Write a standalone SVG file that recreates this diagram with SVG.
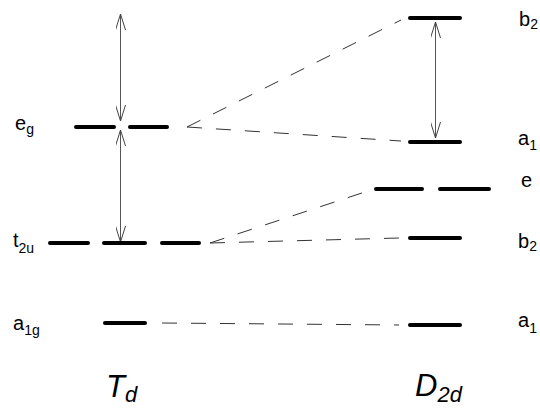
<svg xmlns="http://www.w3.org/2000/svg" width="540" height="408" viewBox="0 0 540 408">
<defs>
<style>
.lvl{stroke:#000;stroke-width:4;stroke-linecap:round;fill:none}
.dash{stroke:#333;stroke-width:1;stroke-dasharray:15 14;fill:none}
.arr{stroke:#555;stroke-width:1;fill:none;marker-start:url(#ah);marker-end:url(#ah)}
.lab{font-family:"Liberation Sans",Arial,sans-serif;font-size:20px;fill:#000}
.sub{font-size:14px}
.grp{font-family:"Liberation Sans",Arial,sans-serif;font-size:31px;font-style:italic;fill:#000}
.gsub{font-size:22px}
</style>
<marker id="ah" viewBox="0 0 16 10" refX="16" refY="5" markerWidth="16" markerHeight="10" markerUnits="userSpaceOnUse" orient="auto-start-reverse">
<path d="M0,0 L16,5 L0,10" fill="none" stroke="#444" stroke-width="1"/>
</marker>
</defs>
<rect width="540" height="408" fill="#fff"/>
<g id="connectors">
<path class="dash" d="M187,127 L401,20"/>
<path class="dash" d="M187,127 L401,141"/>
<path class="dash" d="M210,243 L371,190"/>
<path class="dash" d="M210,243 L399,238"/>
<path class="dash" d="M162,323 L399,325"/>
<path class="arr" d="M120.5,14 L120.5,121"/>
<path class="arr" d="M120.5,130 L120.5,242"/>
<path class="arr" d="M435.5,22 L435.5,138"/>
</g>
<g id="Td-eg">
<path class="lvl" d="M76,127 L114,127 M130,127 L167,127"/>
<text class="lab" x="15" y="130">e<tspan class="sub" dy="4">g</tspan></text>
</g>
<g id="Td-t2u">
<path class="lvl" d="M50,243 L88,243 M104,243 L145,243 M162,243 L199,243"/>
<text class="lab" x="13" y="247">t<tspan class="sub" dy="6">2u</tspan></text>
</g>
<g id="Td-a1g">
<path class="lvl" d="M105,323 L145,323"/>
<text class="lab" x="13" y="330">a<tspan class="sub" dy="5">1g</tspan></text>
</g>
<g id="D2d-b2-upper">
<path class="lvl" d="M410,18 L460,18"/>
<text class="lab" x="519" y="26">b<tspan class="sub" dy="3">2</tspan></text>
</g>
<g id="D2d-a1-upper">
<path class="lvl" d="M410,142 L460,142"/>
<text class="lab" x="518" y="145">a<tspan class="sub" dy="5">1</tspan></text>
</g>
<g id="D2d-e">
<path class="lvl" d="M376,189 L422,189 M440,189 L489,189"/>
<text class="lab" x="521" y="187">e</text>
</g>
<g id="D2d-b2-lower">
<path class="lvl" d="M410,238 L460,238"/>
<text class="lab" x="518" y="248">b<tspan class="sub" dy="3">2</tspan></text>
</g>
<g id="D2d-a1-lower">
<path class="lvl" d="M410,325 L460,325"/>
<text class="lab" x="518" y="327">a<tspan class="sub" dy="6">1</tspan></text>
</g>
<g id="Td-label">
<text class="grp" x="106" y="397">T<tspan class="gsub" dy="5">d</tspan></text>
</g>
<g id="D2d-label">
<text class="grp" x="415" y="396">D<tspan class="gsub" dy="6">2d</tspan></text>
</g>
</svg>
